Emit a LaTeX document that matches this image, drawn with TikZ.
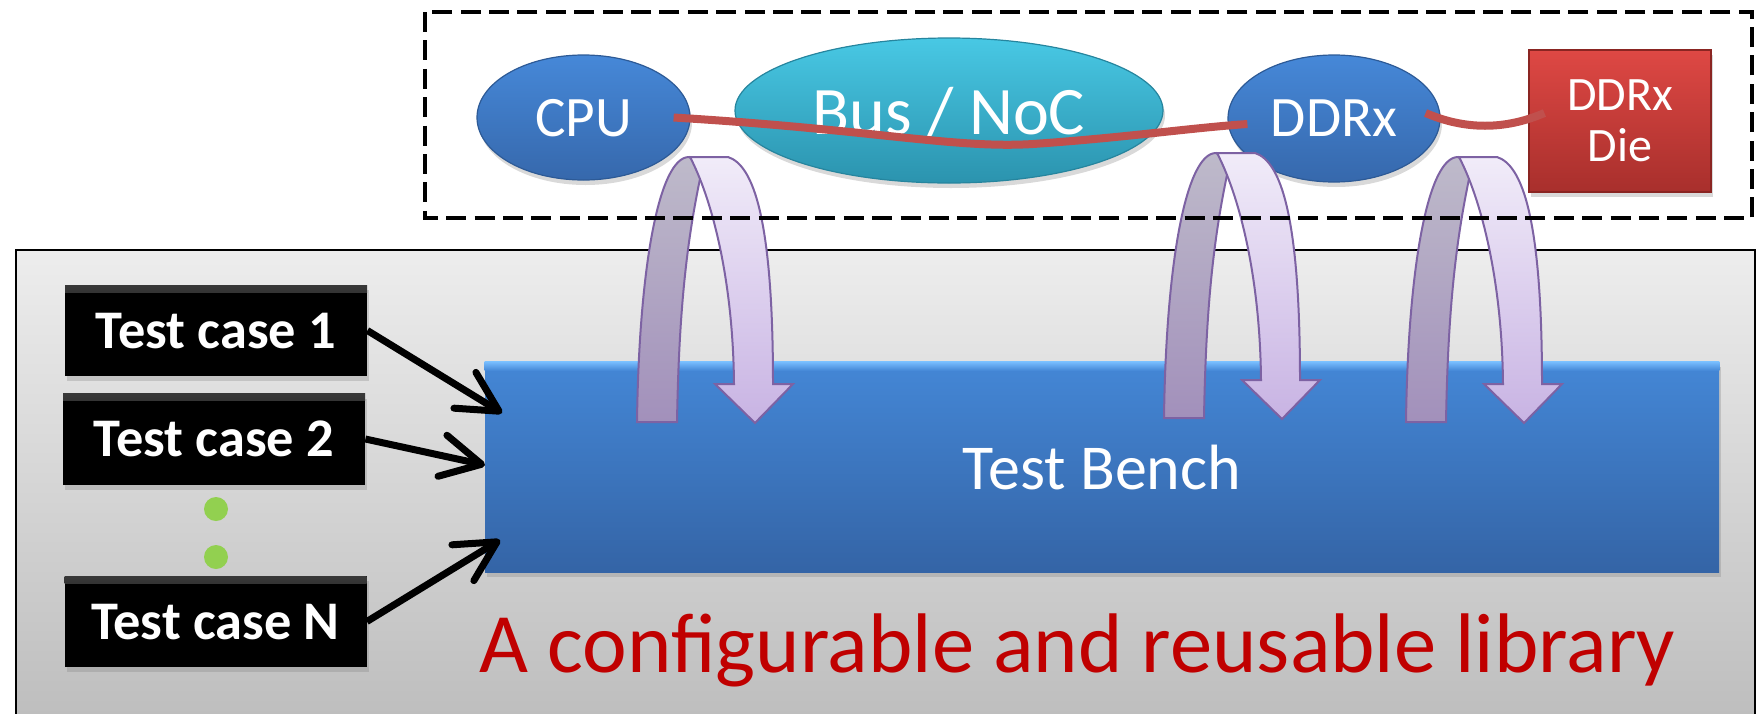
\documentclass[tikz,border=0pt]{standalone}
\usepackage{fontspec}
\setmainfont{Carlito}
\usetikzlibrary{arrows.meta,shapes.geometric,shadows,calc}

\definecolor{libtop}{HTML}{EDEDED}
\definecolor{libbot}{HTML}{BDBDBD}
\definecolor{tbtop}{HTML}{4487D6}
\definecolor{tbbot}{HTML}{3464A6}
\definecolor{tbrim}{HTML}{78BEFF}
\definecolor{cputop}{HTML}{4688D8}
\definecolor{cpubot}{HTML}{3668AC}
\definecolor{cpuedge}{HTML}{2D5A96}
\definecolor{bustop}{HTML}{48C8E4}
\definecolor{busbot}{HTML}{2B93AE}
\definecolor{busedge}{HTML}{26859E}
\definecolor{dietop}{HTML}{DE4844}
\definecolor{diebot}{HTML}{A82F2C}
\definecolor{dieedge}{HTML}{8A2522}
\definecolor{linkred}{HTML}{C0504D}
\definecolor{libred}{HTML}{C00000}
\definecolor{dotgreen}{HTML}{92D050}
\definecolor{backtop}{HTML}{BEBACA}
\definecolor{backbot}{HTML}{A290BB}
\definecolor{fronttop}{HTML}{F1ECF9}
\definecolor{frontbot}{HTML}{C8B3E3}
\definecolor{bandedge}{HTML}{7D62A3}

\tikzset{
  softshadow/.style={drop shadow={shadow xshift=1pt,shadow yshift=-2.5pt,opacity=.3}},
  panel/.style={draw=black,line width=1pt,top color=libtop,bottom color=libbot},
  bench/.style={rectangle,inner sep=0,minimum width=617pt,minimum height=105pt,
    top color=tbtop,bottom color=tbbot,softshadow},
  benchtext/.style={text=white,text depth=0pt,inner sep=0,font=\fontsize{32}{36}\selectfont},
  tcase/.style={rectangle,inner sep=0,minimum width=151pt,minimum height=45.5pt,
    fill=black,softshadow,text=white,text depth=0pt,
    font=\bfseries\fontsize{27.2}{30}\selectfont,
    path picture={\fill[top color=black!78,bottom color=black]
      (path picture bounding box.north west) rectangle
      ([yshift=-3.5pt]path picture bounding box.north east);}},
  blob/.style={ellipse,inner sep=0,text=white,text depth=0pt,softshadow,line width=.6pt},
  cpublob/.style={blob,top color=cputop,bottom color=cpubot,draw=cpuedge},
  busblob/.style={blob,top color=bustop,bottom color=busbot,draw=busedge},
  diebox/.style={rectangle,inner sep=0,minimum width=91pt,minimum height=71pt,
    top color=dietop,bottom color=diebot,draw=dieedge,line width=.6pt,softshadow,
    text=white,align=center,font=\fontsize{24}{25.5}\selectfont},
  dot/.style={circle,fill=dotgreen,inner sep=0,minimum size=12pt},
  redlink/.style={draw=linkred,line width=4pt},
  feed/.style={draw=black,line width=3.5pt,
    -{Straight Barb[length=20pt,width=21pt,round]}},
  dashbox/.style={draw=black,line width=2.3pt,dash pattern=on 10pt off 4.2pt},
  backband/.style={draw=bandedge,line width=1pt,top color=backtop,bottom color=backbot},
  frontband/.style={draw=bandedge,line width=1pt,top color=fronttop,bottom color=frontbot},
  pics/looparrow/.style={code={
    \path[backband] (-50,265) .. controls (-48,110) and (-28,0) .. (2,0)
      -- (16,8) .. controls (0,80) and (-8,150) .. (-10,265) -- cycle;
    \path[frontband] (3,0) -- (41,0) .. controls (66,8) and (86,60) .. (86,227)
      -- (106,227) -- (68,266) -- (28,227) -- (47,227)
      .. controls (46,120) and (24,40) .. (3,0) -- cycle;
  }}
}

\begin{document}
\begin{tikzpicture}[x=0.5pt,y=-0.5pt]
\clip (0,0) rectangle (1762,713);

% library panel
\path[panel] (16,250) rectangle (1755,725);

% test bench with a lighter top rim
\node[bench] (tb) at (1102,467) {};
\fill[top color=tbrim,bottom color=tbtop] (tb.north west) rectangle ($(tb.north east)+(0,9)$);
\node[benchtext] (tbl) at (tb.center) {Test Bench};

% test cases
\node[tcase] (tc1) at (216,330.5) {Test case 1};
\node[tcase] (tc2) at (214,439) {Test case 2};
\node[tcase] (tcn) at (215.5,621.5) {Test case N};
\node[dot] (d1) at (216,509) {};
\node[dot] (d2) at (216,557) {};

\coordinate (in1) at (502,413);
\coordinate (in2) at (485,465);
\coordinate (inn) at (500,540);
\draw[feed] (tc1.east) -- (in1);
\draw[feed] (tc2.east) -- (in2);
\draw[feed] (tcn.east) -- (inn);

% caption
\node[anchor=base west,inner sep=0,text=libred,font=\fontsize{42.3}{50}\selectfont]
  (cap) at (479,672) {A configurable and reusable library};

% system under test
\node[cpublob,minimum width=106.5pt,minimum height=62.5pt,font=\fontsize{28.6}{32}\selectfont]
  (cpu) at (583.5,117.5) {CPU};
\node[busblob,minimum width=214pt,minimum height=72.5pt,font=\fontsize{34}{38}\selectfont]
  (bus) at (949,110.5) {Bus / NoC};
\node[cpublob,minimum width=106pt,minimum height=63.5pt,font=\fontsize{28.6}{32}\selectfont]
  (ddr) at (1334,118.5) {DDRx};
\node[diebox] (die) at (1620,121) {DDRx\\Die};

\path[redlink] ($(cpu.east)+(-17,0)$) .. controls (880,130) and (960,150) .. (1040,143.5)
  .. controls (1130,137) and (1190,128) .. ($(ddr.west)+(20,5.5)$);
\path[redlink] ($(ddr.east)+(-15,-5.5)$) .. controls (1465,130) and (1505,130) .. ($(die.west)+(16,-8)$);

% loop-back arrows into the bench
\pic (la) at (687,157) {looparrow};
\pic (lb) at (1214,153) {looparrow};
\pic (lc) at (1456,157) {looparrow};

% boundary of the system under test
\path[dashbox] (425,12) rectangle (1752,218);
\end{tikzpicture}
\end{document}
